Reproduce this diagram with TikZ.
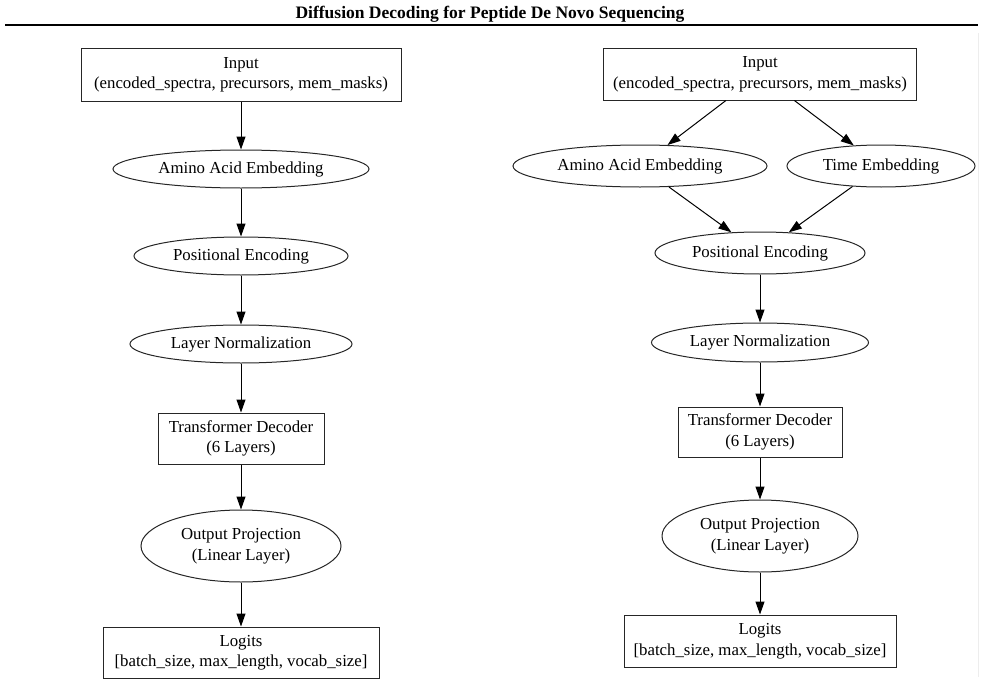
\documentclass[tikz,border=0pt]{standalone}
\usepackage{fontspec}
\setmainfont{Liberation Serif}
\usetikzlibrary{shapes.geometric,arrows.meta}
\begin{document}
\begin{tikzpicture}[x=1pt,y=-1pt,
  every node/.style={font=\fontsize{16.8}{20.5}\selectfont, inner sep=0pt, align=center},
  boxnode/.style={draw=black!85, line width=1pt, rectangle},
  ellnode/.style={draw=black!85, line width=1pt, ellipse},
  flow/.style={draw=black, line width=1pt, -{Triangle[length=13pt,width=9pt]}}]
\useasboundingbox (0,0) rectangle (985,685);
% title and rule
\node[font=\fontsize{17.5}{21}\selectfont\bfseries, anchor=base] (title) at (490,19) {Diffusion Decoding for Peptide De Novo Sequencing};
\draw[line width=2pt] (5,25) -- (978,25);
\draw[line width=0.8pt, black!7] (978,33) -- (978,677);
% left graph
\node[boxnode, minimum width=320pt, minimum height=52pt] (inL) at (241,75) {Input\\(encoded\_spectra, precursors, mem\_masks)};
\node[ellnode, minimum width=256pt, minimum height=38pt] (aaeL) at (241,169) {Amino Acid Embedding};
\node[ellnode, minimum width=214pt, minimum height=38pt] (peL) at (241,256) {Positional Encoding};
\node[ellnode, minimum width=222pt, minimum height=38pt] (lnL) at (241,344) {Layer Normalization};
\node[boxnode, minimum width=166pt, minimum height=51pt] (tdL) at (241,438.5) {Transformer Decoder\\(6 Layers)};
\node[ellnode, minimum width=200pt, minimum height=72pt] (opL) at (241,546) {Output Projection\\(Linear Layer)};
\node[boxnode, minimum width=276pt, minimum height=51pt] (logL) at (241,652.5) {Logits\\{}[batch\_size, max\_length, vocab\_size]};
\draw[flow] (inL) -- (aaeL);
\draw[flow] (aaeL) -- (peL);
\draw[flow] (peL) -- (lnL);
\draw[flow] (lnL) -- (tdL);
\draw[flow] (tdL) -- (opL);
\draw[flow] (opL) -- (logL);
% right graph
\node[boxnode, minimum width=313pt, minimum height=51pt] (inR) at (760,74.5) {Input\\(encoded\_spectra, precursors, mem\_masks)};
\node[ellnode, minimum width=254pt, minimum height=42pt] (aaeR) at (640,166) {Amino Acid Embedding};
\node[ellnode, minimum width=188pt, minimum height=42pt] (teR) at (881,166) {Time Embedding};
\node[ellnode, minimum width=210pt, minimum height=42pt] (peR) at (760,253) {Positional Encoding};
\node[ellnode, minimum width=217pt, minimum height=39pt] (lnR) at (760,342.5) {Layer Normalization};
\node[boxnode, minimum width=164pt, minimum height=50pt] (tdR) at (760,432) {Transformer Decoder\\(6 Layers)};
\node[ellnode, minimum width=196pt, minimum height=72pt] (opR) at (760,536) {Output Projection\\(Linear Layer)};
\node[boxnode, minimum width=272pt, minimum height=52pt] (logR) at (760,641) {Logits\\{}[batch\_size, max\_length, vocab\_size]};
\draw[flow] (inR) -- (aaeR);
\draw[flow] (inR) -- (teR);
\draw[flow] (aaeR) -- (peR);
\draw[flow] (teR) -- (peR);
\draw[flow] (peR) -- (lnR);
\draw[flow] (lnR) -- (tdR);
\draw[flow] (tdR) -- (opR);
\draw[flow] (opR) -- (logR);
\end{tikzpicture}
\end{document}
